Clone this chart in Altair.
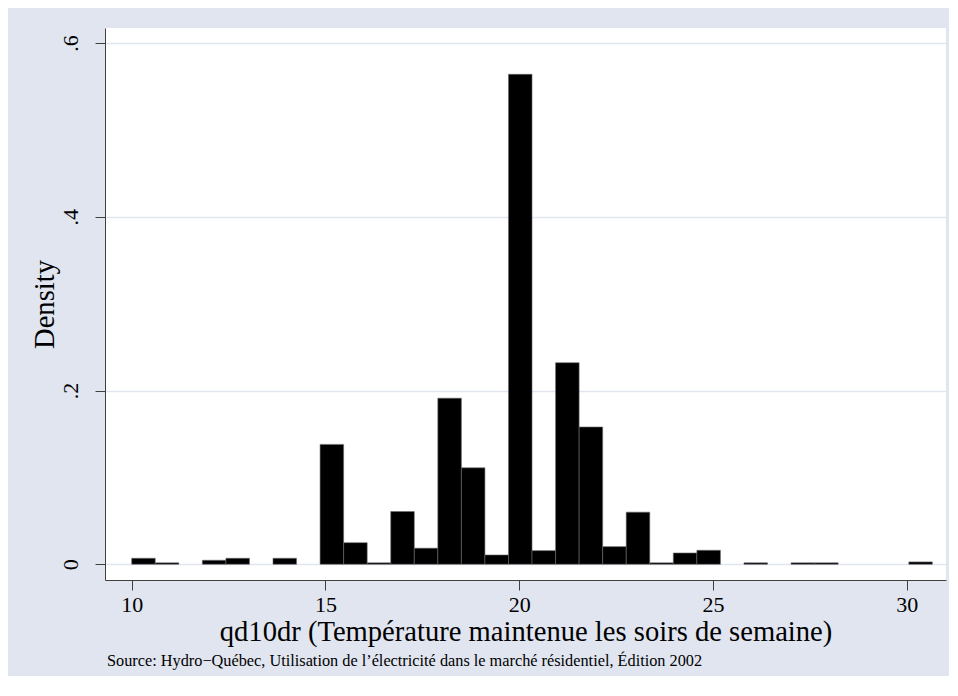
import altair as alt
import pandas as pd

# Histogram (Stata-style): 34 bins starting at 10, width ~0.607
bin_start = 10.0
bin_width = 0.6077
density = [
    0.0069, 0.0017, 0.0, 0.0046, 0.0069, 0.0, 0.0069, 0.0,
    0.138, 0.0249, 0.0017, 0.0607, 0.0185, 0.1912, 0.111, 0.0107,
    0.564, 0.0157, 0.232, 0.158, 0.0203, 0.060, 0.0017, 0.013,
    0.0161, 0.0, 0.0017, 0.0, 0.0017, 0.0017, 0.0, 0.0, 0.0, 0.0027,
]
x_ticks = [10, 15, 20, 25, 30]
y_ticks = [0, 0.2, 0.4, 0.6]

rows = []
for i, d in enumerate(density):
    if d > 0:
        lo = bin_start + i * bin_width
        rows.append({"lo": lo, "hi": lo + bin_width, "density": d, "base": 0.0})
df = pd.DataFrame(rows)

BG = "#E0E5F0"
FONT = "Liberation Serif"

chart = alt.Chart(df).mark_rect(
    color="black", stroke="#6a6a6a", strokeWidth=0.6
).encode(
    x=alt.X("lo:Q",
            scale=alt.Scale(domain=[9.311, 31.014], nice=False, zero=False),
            axis=alt.Axis(values=x_ticks, title="qd10dr (Température maintenue les soirs de semaine)",
                          grid=False, labelPadding=4, titlePadding=2)),
    x2="hi:Q",
    y=alt.Y("density:Q",
            scale=alt.Scale(domain=[-0.0181, 0.6173], nice=False, zero=False),
            axis=alt.Axis(values=y_ticks, title="Density",
                          labelExpr="datum.value == 0 ? '0' : '.' + format(datum.value * 10, '.0f')",
                          labelAngle=270, labelPadding=13, titlePadding=0,
                          grid=True, gridColor=BG, gridWidth=1.6)),
    y2="base:Q",
).properties(
    width=841,
    height=552,
    padding={"left": 97, "top": 20, "right": 3, "bottom": 96},
    autosize=alt.AutoSizeParams(type="none"),
    title=alt.TitleParams(
        "Source: Hydro−Québec, Utilisation de l’électricité dans le marché résidentiel, Édition 2002",
        orient="bottom", anchor="start", frame="group", dx=2,
        font=FONT, fontSize=16.3, fontWeight="normal", color="black", offset=7,
    ),
).configure(
    background=BG,
).configure_view(
    fill="white", stroke=None,
).configure_axis(
    labelFont=FONT, titleFont=FONT, labelFontSize=22, titleFontSize=28.6,
    titleFontWeight="normal", labelColor="black", titleColor="black",
    domainColor="#404040", tickColor="#404040", domainWidth=1, tickWidth=1, tickSize=10,
)

chart.save("out.html", embed_options={"renderer": "svg", "actions": False})
